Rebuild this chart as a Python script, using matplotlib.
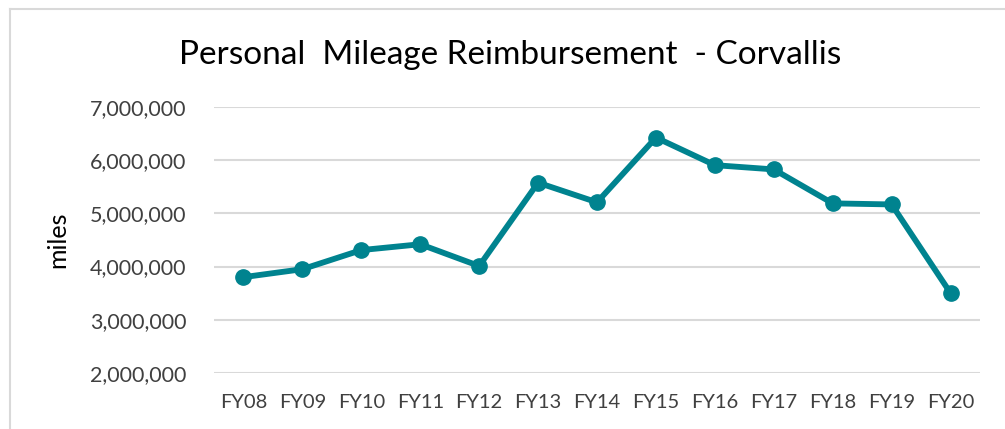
import matplotlib
matplotlib.use('Agg')
import matplotlib.pyplot as plt
from matplotlib.ticker import FuncFormatter, MultipleLocator

# 회계연도별 개인 차량 주행거리 (miles)
YEARS = ['FY08', 'FY09', 'FY10', 'FY11', 'FY12', 'FY13', 'FY14',
         'FY15', 'FY16', 'FY17', 'FY18', 'FY19', 'FY20']
MILES = [3800000, 3950000, 4310000, 4420000, 4010000, 5580000, 5210000,
         6430000, 5910000, 5830000, 5190000, 5170000, 3500000]

LINE_COLOR = '#00838F'
GRID_COLOR = '#D9D9D9'
TEXT_COLOR = '#404040'

plt.rcParams['font.family'] = ['Lato', 'DejaVu Sans']

fig = plt.figure(figsize=(10.05, 4.29), dpi=100)
ax = fig.add_axes([214 / 1005, 1 - 372.7 / 429, (980 - 214) / 1005, (372.7 - 107.3) / 429])

x = list(range(len(YEARS)))
ax.plot(x, MILES, color=LINE_COLOR, linewidth=4.2, marker='o', markersize=11,
        solid_capstyle='round', zorder=3)

ax.set_xlim(-0.5, len(YEARS) - 0.5)
ax.set_ylim(2000000, 7000000)
ax.yaxis.set_major_locator(MultipleLocator(1000000))
ax.yaxis.set_major_formatter(FuncFormatter(lambda v, p: f'{int(v):,}'))
ax.set_xticks(x)
ax.set_xticklabels(YEARS)

ax.grid(axis='y', color=GRID_COLOR, linewidth=1.5, zorder=0)
ax.set_axisbelow(True)
for s in ax.spines.values():
    s.set_visible(False)
ax.tick_params(length=0, colors=TEXT_COLOR)
ax.tick_params(axis='y', labelsize=15.5, pad=20)
ax.tick_params(axis='x', labelsize=14.5, pad=15)

ax.set_ylabel('miles', fontsize=18, color='black', labelpad=15)

fig.text(0.508, 1 - 55 / 429, 'Personal  Mileage Reimbursement  - Corvallis',
         ha='center', va='center', fontsize=24, color='black')

# 차트 테두리 (오른쪽/아래는 잘려 있음)
fig.add_artist(plt.Line2D([10 / 1005, 1], [1 - 9 / 429, 1 - 9 / 429],
                          color=GRID_COLOR, linewidth=1.5))
fig.add_artist(plt.Line2D([10 / 1005, 10 / 1005], [0, 1 - 9 / 429],
                          color=GRID_COLOR, linewidth=1.5))

plt.savefig('out.png', dpi=100)
plt.close()
